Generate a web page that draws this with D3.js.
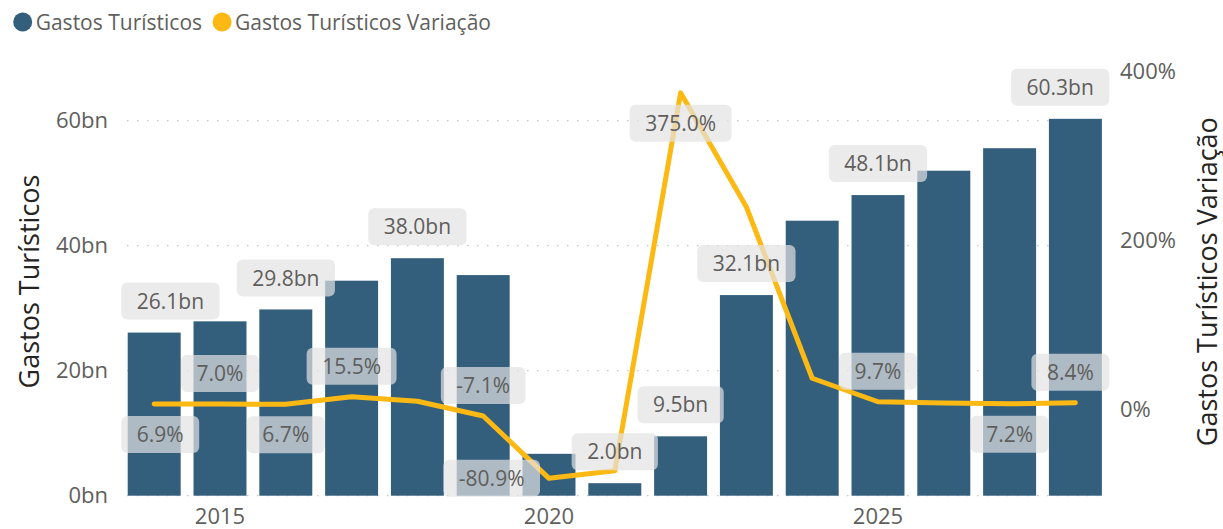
<!DOCTYPE html>
<html>
<head>
<meta charset="utf-8">
<script src="https://cdn.jsdelivr.net/npm/d3@7"></script>
<style>
  body { margin: 0; background: #fff; }
  svg { display: block; font-family: "Open Sans", sans-serif; }
</style>
</head>
<body>
<svg id="chart" width="1223" height="529"></svg>
<script>
// values
var years = [2014, 2015, 2016, 2017, 2018, 2019, 2020, 2021, 2022, 2023, 2024, 2025, 2026, 2027, 2028];
var gastos = [26.1, 27.9, 29.8, 34.4, 38.0, 35.3, 6.7, 2.0, 9.5, 32.1, 44.0, 48.1, 52.0, 55.6, 60.3];
var variacao = [6.9, 7.0, 6.7, 15.5, 10.2, -7.1, -80.9, -72.0, 375.0, 240.0, 37.5, 9.7, 8.1, 7.2, 8.4];

// which labels the original shows, and where the line labels sit
var barLabelYears = [2014, 2016, 2018, 2021, 2022, 2023, 2025, 2028];
var lineLabelPlace = ['below', 'above', 'below', 'above', null, 'above', 'left', null, 'below', null, null, 'above', null, 'below', 'above'];

var leftTicks = [0, 20, 40, 60];
var rightTicks = [0, 200, 400];
var xTickYears = [2015, 2020, 2025];

var seriesNames = ['Gastos Turísticos', 'Gastos Turísticos Variação'];

var colors = { bar: '#335f7d', line: '#fdb913', tick: '#605e5c', title: '#252423', grid: '#c8c6c4' };

var plot = { left: 121.3, right: 1108.3, top: 71.7, bottom: 495.7 };

var svg = d3.select('#chart');

var x = d3.scaleBand()
  .domain(years)
  .range([plot.left, plot.right])
  .paddingInner(0.195)
  .paddingOuter(0.0975);

var yLeft = d3.scaleLinear().domain([0, 67.84]).range([plot.bottom, plot.top]);
var yRight = d3.scaleLinear().domain([-100, 400]).range([494.5, plot.top]);

var cx = function(yr) { return x(yr) + x.bandwidth() / 2; };

// gridlines (dotted)
svg.append('g').selectAll('line')
  .data(leftTicks)
  .join('line')
  .attr('x1', 127)
  .attr('x2', 1102)
  .attr('y1', function(d) { return yLeft(d); })
  .attr('y2', function(d) { return yLeft(d); })
  .attr('stroke', colors.grid)
  .attr('stroke-width', 1.3)
  .attr('stroke-dasharray', '1.5,8.5');

function styleTicks(sel) {
  sel.select('.domain').remove();
  sel.selectAll('text')
    .attr('fill', colors.tick)
    .style('font-size', '22px')
    .style('font-family', '"Open Sans", sans-serif');
}

// left axis
svg.append('g')
  .attr('transform', 'translate(108,0)')
  .call(d3.axisLeft(yLeft).tickValues(leftTicks).tickSize(0).tickPadding(0)
    .tickFormat(function(d) { return d + 'bn'; }))
  .call(styleTicks);

// right axis
svg.append('g')
  .attr('transform', 'translate(1120,0)')
  .call(d3.axisRight(yRight).tickValues(rightTicks).tickSize(0).tickPadding(0)
    .tickFormat(function(d) { return d + '%'; }))
  .call(styleTicks);

// x axis
svg.append('g')
  .attr('transform', 'translate(0,' + 508 + ')')
  .call(d3.axisBottom(x).tickValues(xTickYears).tickSize(0).tickPadding(0))
  .call(styleTicks)
  .selectAll('text').attr('dy', '0.71em');

// axis titles
svg.append('text')
  .attr('transform', 'translate(39,281.5) rotate(-90)')
  .attr('text-anchor', 'middle')
  .attr('fill', colors.title)
  .style('font-size', '27px')
  .text(seriesNames[0]);

svg.append('text')
  .attr('transform', 'translate(1216.5,281.7) rotate(-90)')
  .attr('text-anchor', 'middle')
  .attr('fill', colors.title)
  .style('font-size', '27px')
  .text(seriesNames[1]);

// bars
svg.append('g').selectAll('rect')
  .data(years)
  .join('rect')
  .attr('x', function(d) { return x(d); })
  .attr('width', x.bandwidth())
  .attr('y', function(d, i) { return yLeft(gastos[i]); })
  .attr('height', function(d, i) { return plot.bottom - yLeft(gastos[i]); })
  .attr('fill', colors.bar);

// line
var line = d3.line()
  .x(function(d, i) { return cx(years[i]); })
  .y(function(d) { return yRight(d); });

svg.append('path')
  .datum(variacao)
  .attr('d', line)
  .attr('fill', 'none')
  .attr('stroke', colors.line)
  .attr('stroke-width', 5)
  .attr('stroke-linejoin', 'round')
  .attr('stroke-linecap', 'round');

// data labels
var labelLayer = svg.append('g');

function addLabel(text, centerX, centerY, anchorRight) {
  var g = labelLayer.append('g');
  var box = g.append('rect')
    .attr('fill', '#e3e3e3')
    .attr('fill-opacity', 0.7)
    .attr('rx', 6);
  var t = g.append('text')
    .attr('fill', colors.tick)
    .attr('text-anchor', 'middle')
    .attr('dy', '0.36em')
    .style('font-size', '21px')
    .text(text);
  var w = t.node().getComputedTextLength() + 31;
  var h = 37;
  if (anchorRight !== undefined) centerX = anchorRight - w / 2;
  // keep boxes inside the plot
  centerX = Math.max(plot.left + w / 2, Math.min(plot.right + 1 - w / 2, centerX));
  box.attr('x', centerX - w / 2).attr('y', centerY - h / 2).attr('width', w).attr('height', h);
  t.attr('x', centerX).attr('y', centerY);
}

years.forEach(function(yr, i) {
  if (barLabelYears.indexOf(yr) >= 0) {
    addLabel(gastos[i].toFixed(1) + 'bn', cx(yr), yLeft(gastos[i]) - 13 - 18.5);
  }
});

years.forEach(function(yr, i) {
  var place = lineLabelPlace[i];
  if (!place) return;
  var py = yRight(variacao[i]);
  var txt = variacao[i].toFixed(1) + '%';
  if (place === 'above') addLabel(txt, cx(yr), py - 12 - 18.5);
  else if (place === 'below') addLabel(txt, cx(yr), py + 12 + 18.5);
  else if (place === 'left') addLabel(txt, 0, py, cx(yr) - 9);
});

// legend
var legend = svg.append('g');
var lx = 22.7;
seriesNames.forEach(function(name, i) {
  legend.append('circle')
    .attr('cx', lx)
    .attr('cy', 22)
    .attr('r', 9.5)
    .attr('fill', i === 0 ? colors.bar : colors.line);
  var t = legend.append('text')
    .attr('x', lx + 13)
    .attr('y', 30)
    .attr('fill', colors.tick)
    .style('font-size', '21px')
    .text(name);
  lx = lx + 13 + t.node().getComputedTextLength() + 20;
});
</script>
</body>
</html>
